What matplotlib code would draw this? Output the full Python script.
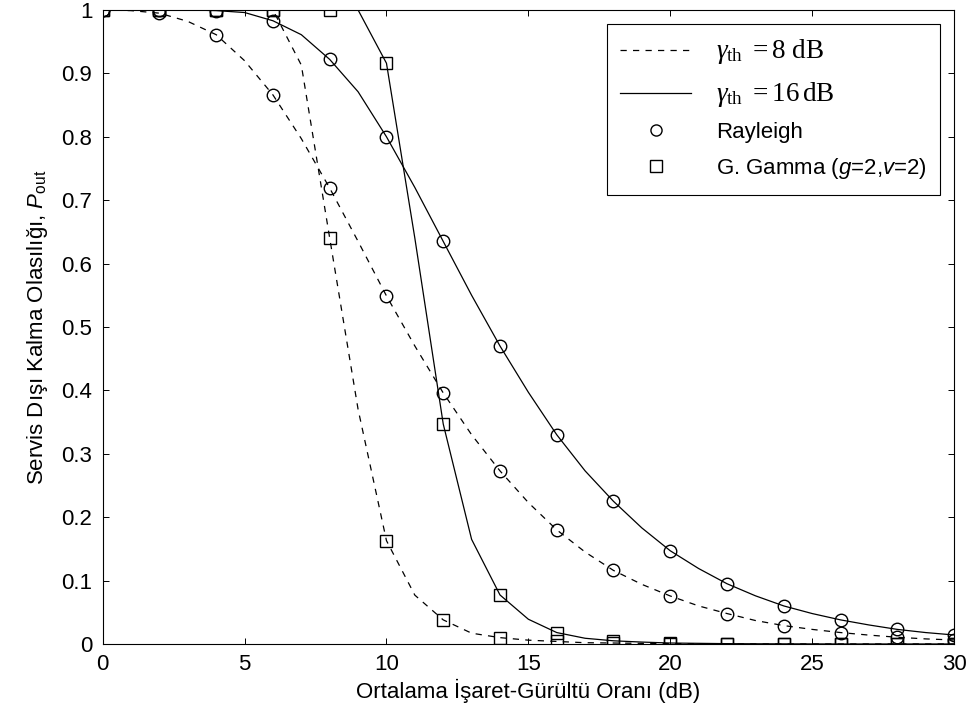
# -*- coding: utf-8 -*-
import numpy as np
import matplotlib
matplotlib.use('Agg')
import matplotlib.pyplot as plt
from matplotlib.lines import Line2D

# SNR (dB), hesaplama adimi 1 dB
snr = list(range(0, 31))

# Rayleigh, gamma_th = 8 dB
ray_8 = [1.0, 0.999, 0.995, 0.982, 0.961, 0.92, 0.866, 0.797, 0.719, 0.635,
         0.549, 0.47, 0.396, 0.33, 0.273, 0.223, 0.180, 0.145, 0.116, 0.094,
         0.0757, 0.060, 0.048, 0.037, 0.029, 0.023, 0.018, 0.014, 0.0106, 0.008,
         0.0063]
# Rayleigh, gamma_th = 16 dB
ray_16 = [1.0, 1.0, 1.0, 1.0, 0.999, 0.996, 0.983, 0.961, 0.922, 0.871,
          0.80, 0.72, 0.635, 0.55, 0.47, 0.397, 0.330, 0.273, 0.225, 0.183,
          0.147, 0.119, 0.095, 0.076, 0.060, 0.048, 0.038, 0.030, 0.023, 0.018,
          0.0142]
# G. Gamma (g=2, v=2), gamma_th = 8 dB
gg_8 = [1.0, 1.0, 1.0, 1.0, 1.0, 1.0, 1.0, 0.913, 0.64, 0.37,
        0.163, 0.077, 0.038, 0.017, 0.010, 0.006, 0.004, 0.002, 0.0015, 0.001,
        0.0005, 0.0003, 0.0002, 0.0001, 0.0, 0.0, 0.0, 0.0, 0.0, 0.0,
        0.0]
# G. Gamma (g=2, v=2), gamma_th = 16 dB
gg_16 = [1.0, 1.0, 1.0, 1.0, 1.0, 1.0, 1.0, 1.0, 1.0, 1.0,
         0.916, 0.64, 0.347, 0.165, 0.0773, 0.039, 0.018, 0.009, 0.005, 0.003,
         0.0015, 0.001, 0.0005, 0.0003, 0.0002, 0.0001, 0.0, 0.0, 0.0, 0.0,
         0.0]

xticks = [0, 5, 10, 15, 20, 25, 30]
yticks = [0, 0.1, 0.2, 0.3, 0.4, 0.5, 0.6, 0.7, 0.8, 0.9, 1]
ytick_labels = ['0', '0.1', '0.2', '0.3', '0.4', '0.5', '0.6', '0.7', '0.8', '0.9', '1']


def main():
    plt.rcParams['font.family'] = ['Liberation Sans', 'DejaVu Sans']
    plt.rcParams['font.size'] = 16
    plt.rcParams['mathtext.fontset'] = 'custom'
    plt.rcParams['mathtext.rm'] = 'Liberation Serif'
    plt.rcParams['mathtext.it'] = 'Liberation Serif:italic'
    plt.rcParams['mathtext.sf'] = 'Liberation Sans:italic'

    fig = plt.figure(figsize=(9.78, 7.18), dpi=100)
    ax = fig.add_axes([0.105, 0.1031, 0.8705, 0.883])

    x = np.array(snr)
    lw = 0.9
    dash = (0, (5, 5))

    # egriler (1 dB adim)
    ax.plot(x, ray_8, color='k', lw=lw, ls=dash)
    ax.plot(x, ray_16, color='k', lw=lw, ls='-')
    ax.plot(x, gg_8, color='k', lw=lw, ls=dash)
    ax.plot(x, gg_16, color='k', lw=lw, ls='-')

    # isaretler (2 dB adim)
    mk = dict(color='k', ls='none', mfc='none', mew=1.0)
    ax.plot(x[::2], ray_8[::2], marker='o', ms=9, **mk)
    ax.plot(x[::2], ray_16[::2], marker='o', ms=9, **mk)
    ax.plot(x[::2], gg_8[::2], marker='s', ms=8.5, **mk)
    ax.plot(x[::2], gg_16[::2], marker='s', ms=8.5, **mk)

    ax.set_xlim(0, 30)
    ax.set_ylim(0, 1)
    ax.set_xticks(xticks)
    ax.set_yticks(yticks)
    ax.set_yticklabels(ytick_labels)
    ax.tick_params(direction='in', length=4.5, width=0.7, top=True, right=True,
                   labelsize=16)
    ax.tick_params(axis='x', pad=7)
    ax.tick_params(axis='y', pad=7.5)
    for s in ax.spines.values():
        s.set_linewidth(0.8)

    ax.set_xlabel('Ortalama İşaret-Gürültü Oranı (dB)', fontsize=16, labelpad=3)
    ax.set_ylabel(r'Servis Dışı Kalma Olasılığı, $\mathsf{P}_{\mathregular{out}}$',
                  fontsize=16, labelpad=8)

    handles = [
        Line2D([], [], color='k', lw=lw, ls=dash),
        Line2D([], [], color='k', lw=lw, ls='-'),
        Line2D([], [], color='k', ls='none', marker='o', ms=8, mfc='none', mew=1.0),
        Line2D([], [], color='k', ls='none', marker='s', ms=8, mfc='none', mew=1.0),
    ]
    labels = [
        r'$\gamma_{\rm th}\ = 8\ {\rm dB}$',
        r'$\gamma_{\rm th}\ = 16\,{\rm dB}$',
        'Rayleigh',
        r'G. Gamma ($\mathsf{g}$=2,$\mathsf{v}$=2)',
    ]
    leg = ax.legend(handles, labels, loc='upper right', bbox_to_anchor=(0.9836, 0.978),
                    fontsize=16, frameon=True, fancybox=False, edgecolor='k',
                    handlelength=3.2, handletextpad=1.1, labelspacing=0.6,
                    borderpad=0.6, borderaxespad=0.0)
    leg.get_frame().set_linewidth(0.8)
    leg.get_frame().set_alpha(1)
    # gamma satirlari biraz daha buyuk
    for t in leg.get_texts()[:2]:
        t.set_fontsize(19.5)

    plt.savefig('out.png', dpi=100)


if __name__ == '__main__':
    main()
